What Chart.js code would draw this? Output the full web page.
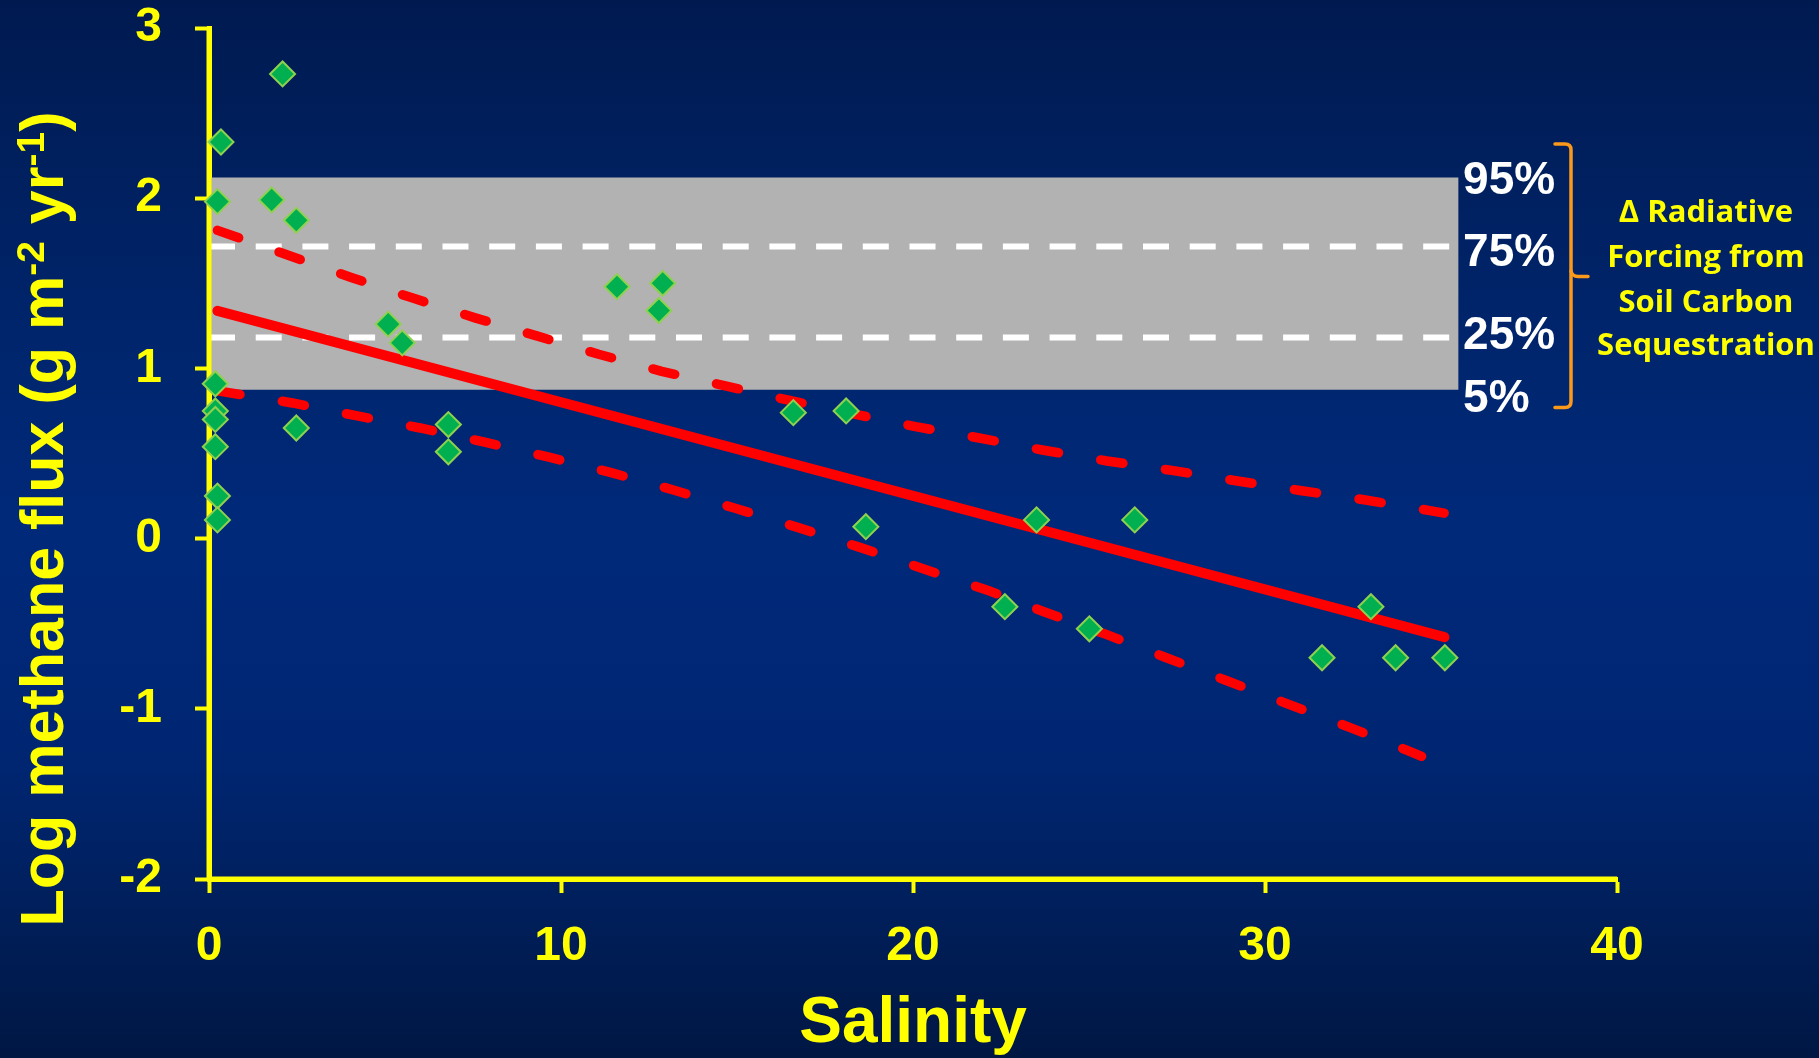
<!DOCTYPE html>
<html>
<head>
<meta charset="utf-8">
<script src="https://cdn.jsdelivr.net/npm/chart.js@4/dist/chart.umd.min.js"></script>
<style>
html,body{margin:0;padding:0;background:#00226a;overflow:hidden;}
#wrap{width:1819px;height:1058px;position:relative;}
</style>
</head>
<body>
<div id="wrap"><canvas id="c"></canvas></div>
<script>
// ---------- data ----------
const salinity = [2.09,0.34,0.24,1.78,2.48,5.09,5.49,0.18,0.18,0.18,0.18,0.24,0.24,2.48,6.80,6.80,11.59,12.78,12.89,16.60,18.10,18.66,22.61,23.51,25.01,26.30,31.62,33.01,33.71,35.11];
const logFlux  = [2.73,2.33,1.98,1.99,1.87,1.26,1.15,0.91,0.75,0.70,0.54,0.25,0.11,0.65,0.67,0.51,1.48,1.34,1.50,0.74,0.75,0.07,-0.40,0.11,-0.53,0.11,-0.70,-0.40,-0.70,-0.70];

const fitX = [0.24, 35.1];
const fitY = [1.338, -0.579];

const upperX = [0.24,2.31,4.04,5.79,7.56,9.31,11.07,12.86,14.67,16.47,18.27,20.07,21.88,23.71,25.51,27.35,29.17,30.99,32.81,34.64,35.09];
const upperY = [1.811,1.660,1.534,1.413,1.297,1.191,1.083,0.983,0.897,0.813,0.734,0.658,0.591,0.519,0.456,0.401,0.340,0.283,0.228,0.166,0.150];

const lowerX = [0.25,2.37,4.18,6.00,7.80,9.60,11.40,13.17,14.95,16.72,18.47,22.2,23.70,25.45,27.16,28.88,30.60,32.33,34.04,34.45];
const lowerY = [0.868,0.797,0.722,0.650,0.568,0.481,0.389,0.287,0.178,0.066,-0.050,-0.31,-0.428,-0.560,-0.697,-0.832,-0.968,-1.103,-1.244,-1.279];

const percentileLabels = ['95%','75%','25%','5%'];
const percentileValues = [2.122, 1.716, 1.181, 0.875];
const bandX = [0, 35.5];
const refLineX = [0, 35.3];

const xTicks = [0,10,20,30,40];
const yTicks = [-2,-1,0,1,2,3];

const annotationLines = ['Δ Radiative','Forcing from','Soil Carbon','Sequestration'];
const xTitle = 'Salinity';
const yTitleParts = [['Log methane flux (g m', false], ['-2', true], [' yr', false], ['-1', true], [')', false]];

// ---------- styles / layout ----------
const YELLOW = '#ffff00';
const AX_FONT = '"Liberation Sans", Arial, Helvetica, sans-serif';
const pts = (xs, ys) => xs.map((x, i) => ({x, y: ys[i]}));
const flat = (xs, v) => xs.map(x => ({x, y: v}));

const bgPlugin = {
  id: 'bg',
  beforeDraw(chart) {
    const {ctx, width, height} = chart;
    const g = ctx.createLinearGradient(0, 0, 0, height);
    g.addColorStop(0, '#001a50');
    g.addColorStop(0.35, '#00266f');
    g.addColorStop(0.5, '#00297a');
    g.addColorStop(0.72, '#002672');
    g.addColorStop(1, '#001743');
    ctx.save();
    ctx.fillStyle = g;
    ctx.fillRect(0, 0, width, height);
    ctx.restore();
  }
};

// redraw the axis lines on top of the shaded band and white reference lines
const axisOverPlugin = {
  id: 'axisOver',
  afterDatasetDraw(chart, args) {
    const ds = chart.data.datasets[args.index];
    if (!ds.redrawAxesAfter) return;
    const {ctx, chartArea: a} = chart;
    ctx.save();
    ctx.strokeStyle = YELLOW;
    ctx.lineWidth = 5;
    ctx.beginPath();
    ctx.moveTo(a.left, a.top);
    ctx.lineTo(a.left, a.bottom);
    ctx.moveTo(a.left, a.bottom);
    ctx.lineTo(a.right, a.bottom);
    ctx.stroke();
    ctx.restore();
  }
};

const annotPlugin = {
  id: 'annot',
  afterDraw(chart) {
    const {ctx} = chart;
    const xs = chart.scales.x, ys = chart.scales.y;
    ctx.save();

    // y-axis title with superscripts
    const bigF = 'bold 61px ' + AX_FONT;
    const supF = 'bold 39px ' + AX_FONT;
    let total = 0;
    for (const [t, sup] of yTitleParts) { ctx.font = sup ? supF : bigF; total += ctx.measureText(t).width; }
    ctx.translate(63, 519 + total / 2);
    ctx.rotate(-Math.PI / 2);
    ctx.fillStyle = YELLOW;
    ctx.textBaseline = 'alphabetic';
    ctx.textAlign = 'left';
    let cx = 0;
    for (const [t, sup] of yTitleParts) {
      ctx.font = sup ? supF : bigF;
      ctx.fillText(t, cx, sup ? -19 : 0);
      cx += ctx.measureText(t).width;
    }
    ctx.setTransform(1, 0, 0, 1, 0, 0);

    // percentile labels
    const pctOffsets = [17, 19, 11.5, 22];
    ctx.font = 'bold 46px ' + AX_FONT;
    ctx.fillStyle = '#ffffff';
    ctx.textAlign = 'left';
    const lx = xs.getPixelForValue(bandX[1]) + 4.5;
    percentileLabels.forEach((lab, i) => {
      ctx.fillText(lab, lx, ys.getPixelForValue(percentileValues[i]) + pctOffsets[i]);
    });

    // orange brace
    ctx.strokeStyle = '#fb9a1a';
    ctx.lineWidth = 3.5;
    ctx.lineCap = 'round';
    ctx.beginPath();
    ctx.moveTo(1555, 144);
    ctx.lineTo(1565, 144);
    ctx.quadraticCurveTo(1571, 144, 1571, 150);
    ctx.lineTo(1571, 401.5);
    ctx.quadraticCurveTo(1571, 407.5, 1565, 407.5);
    ctx.lineTo(1555, 407.5);
    ctx.stroke();
    ctx.beginPath();
    ctx.moveTo(1571, 271);
    ctx.quadraticCurveTo(1572, 276.5, 1578, 276.5);
    ctx.lineTo(1588, 276.5);
    ctx.stroke();

    // annotation text
    ctx.font = 'bold 31px "Open Sans", "Liberation Sans", sans-serif';
    ctx.fillStyle = YELLOW;
    ctx.textAlign = 'center';
    const baselines = [221.7, 266.5, 311.5, 355];
    annotationLines.forEach((t, i) => ctx.fillText(t, 1706, baselines[i]));
    ctx.restore();
  }
};

const redLine = (xs, ys, dash, order, label) => ({
  type: 'line', label, data: pts(xs, ys), order,
  borderColor: '#ff0000', borderWidth: dash ? 9.5 : 10,
  borderDash: dash ? [22.5, 42.8] : [], borderCapStyle: 'round', borderJoinStyle: 'round',
  pointRadius: 0, tension: 0, fill: false, clip: 8
});

const whiteLine = (v, order, label, redraw) => ({
  type: 'line', label, data: flat(refLineX, v), order,
  borderColor: '#ffffff', borderWidth: 6, borderDash: [26, 20.7], borderCapStyle: 'butt',
  pointRadius: 0, tension: 0, fill: false, redrawAxesAfter: redraw
});

new Chart(document.getElementById('c'), {
  type: 'scatter',
  data: {
    datasets: [
      {
        type: 'scatter', label: 'Sites', data: pts(salinity, logFlux), order: 0,
        pointStyle: 'rectRot', pointRadius: 12.5, pointHoverRadius: 12.5,
        backgroundColor: '#00b050', borderColor: '#8fd14f', borderWidth: 2, clip: false
      },
      redLine(fitX, fitY, false, 1, 'Regression'),
      redLine(upperX, upperY, true, 2, 'Upper 95% CI'),
      redLine(lowerX, lowerY, true, 3, 'Lower 95% CI'),
      whiteLine(percentileValues[1], 10, '75th percentile', true),
      whiteLine(percentileValues[2], 11, '25th percentile', false),
      {
        type: 'line', label: '5-95% range', data: flat(bandX, percentileValues[0]), order: 20,
        borderWidth: 0, borderColor: 'rgba(0,0,0,0)', backgroundColor: '#b2b2b2',
        fill: {value: percentileValues[3]}, pointRadius: 0, tension: 0
      }
    ]
  },
  options: {
    responsive: true,
    maintainAspectRatio: false,
    animation: false,
    events: [],
    devicePixelRatio: 1,
    layout: {padding: {top: 28, right: 202, bottom: 0, left: 0}},
    plugins: {legend: {display: false}, tooltip: {enabled: false}},
    scales: {
      x: {
        type: 'linear', min: xTicks[0], max: xTicks[xTicks.length - 1],
        afterFit: s => { s.height = 179; s.paddingLeft = 0; s.paddingRight = 0; s.paddingTop = 0; s.paddingBottom = 0; },
        afterBuildTicks: s => { s.ticks = xTicks.map(v => ({value: v})); },
        grid: {display: true, drawOnChartArea: false, drawTicks: true, tickLength: 14, tickWidth: 4, tickColor: YELLOW, color: YELLOW},
        border: {display: true, color: YELLOW, width: 5},
        ticks: {color: YELLOW, padding: 30, autoSkip: false, maxRotation: 0,
                font: {family: AX_FONT, size: 48, weight: 'bold', lineHeight: 1}},
        title: {display: true, text: xTitle, color: YELLOW, padding: {top: 0, bottom: 2},
                font: {family: AX_FONT, size: 64, weight: 'bold', lineHeight: 1}}
      },
      y: {
        type: 'linear', min: yTicks[0], max: yTicks[yTicks.length - 1],
        afterFit: s => { s.width = 209; s.paddingTop = 0; s.paddingBottom = 0; s.paddingLeft = 0; s.paddingRight = 0; },
        afterBuildTicks: s => { s.ticks = yTicks.map(v => ({value: v})); },
        grid: {display: true, drawOnChartArea: false, drawTicks: true, tickLength: 14, tickWidth: 4, tickColor: YELLOW, color: YELLOW},
        border: {display: true, color: YELLOW, width: 5},
        ticks: {color: YELLOW, padding: 33, autoSkip: false,
                font: {family: AX_FONT, size: 48, weight: 'bold', lineHeight: 1}},
        title: {display: false}
      }
    }
  },
  plugins: [bgPlugin, axisOverPlugin, annotPlugin]
});
</script>
</body>
</html>
